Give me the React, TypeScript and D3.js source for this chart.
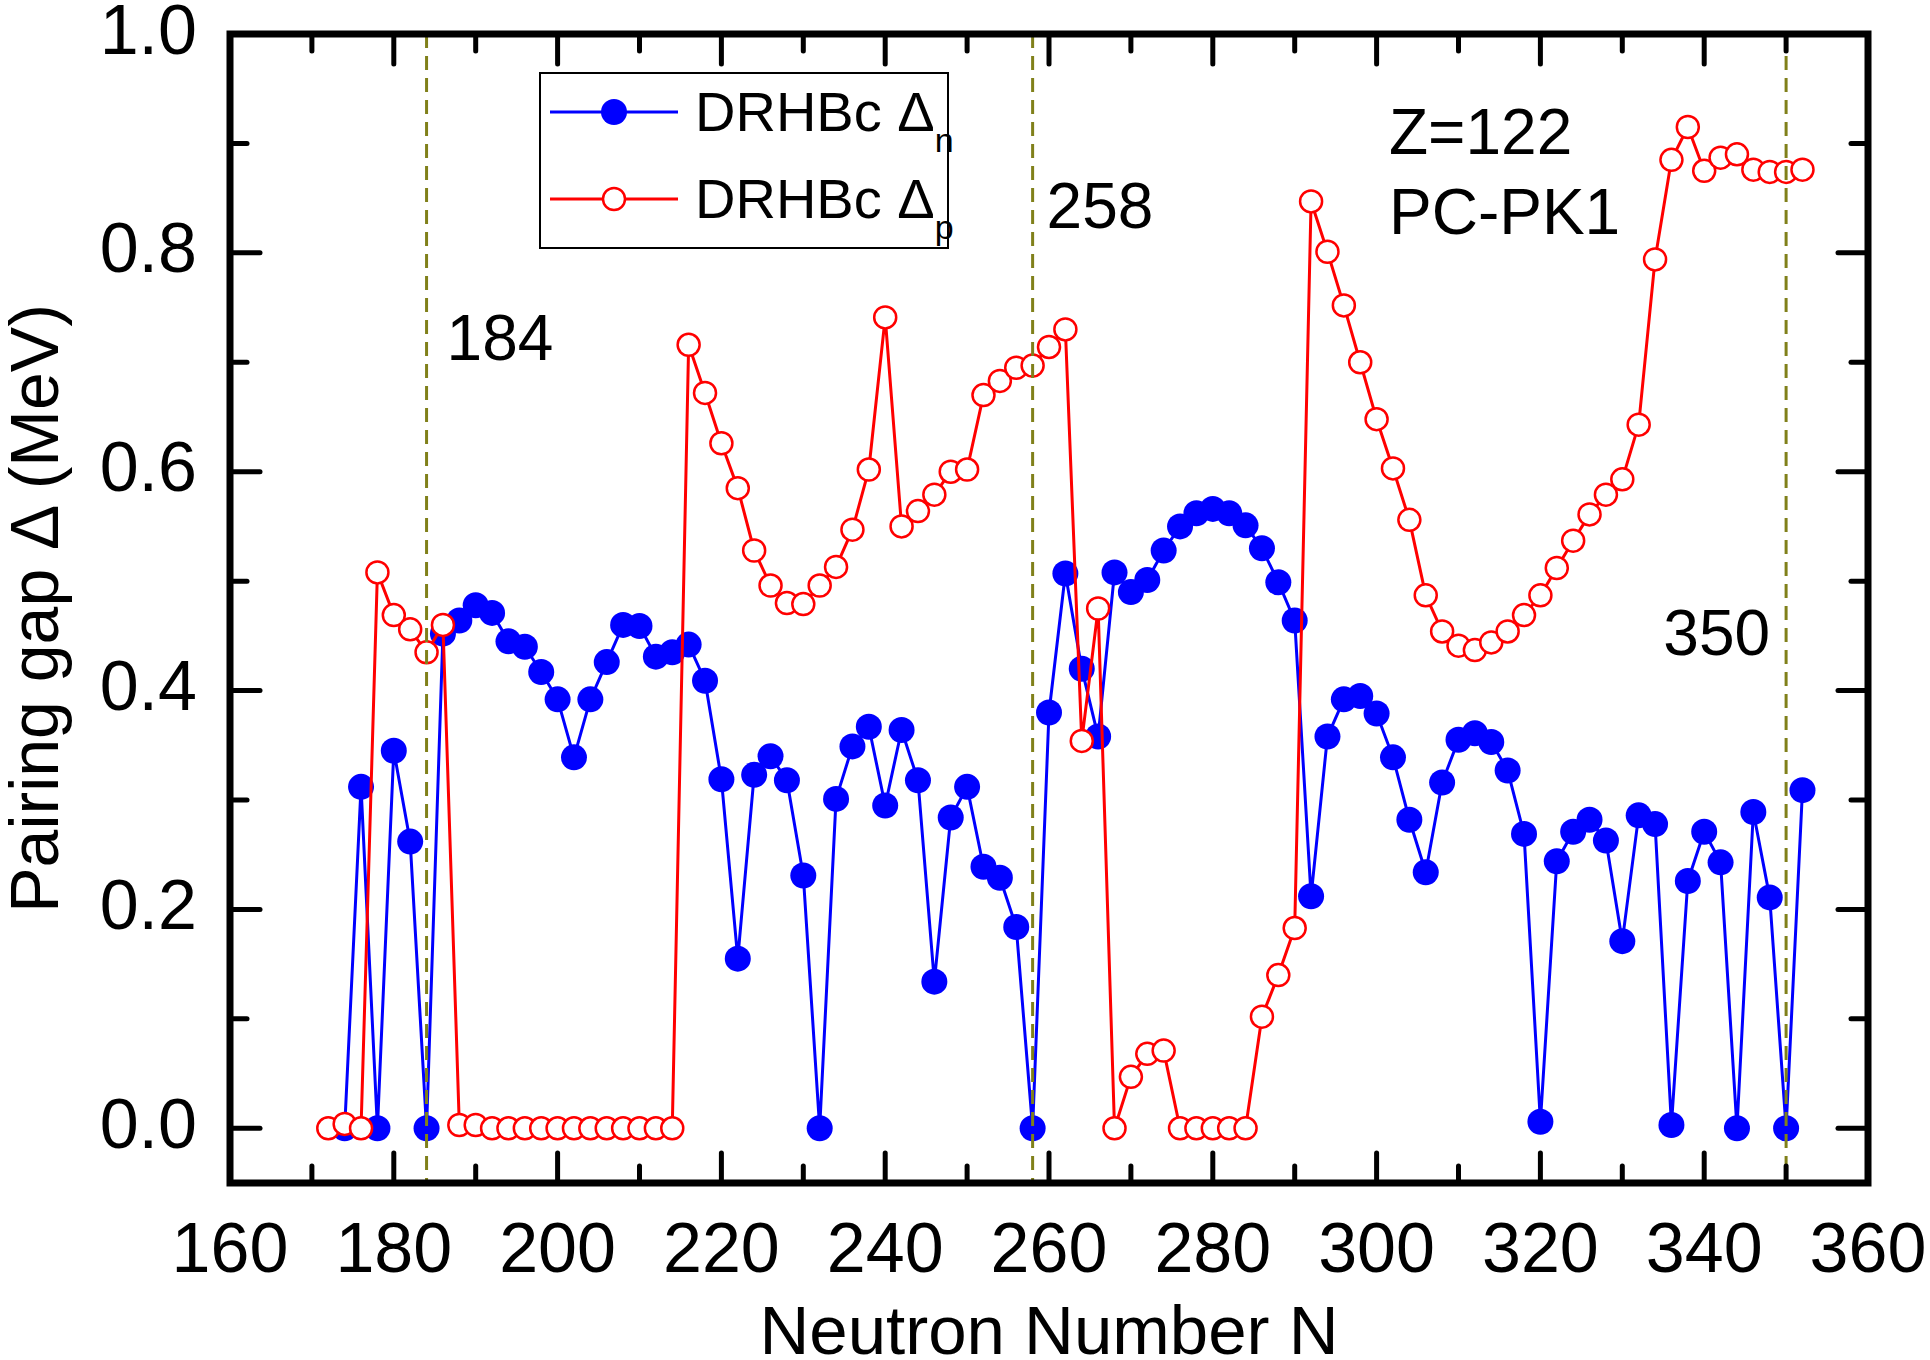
import React, { useEffect, useRef } from 'react';
import * as d3 from 'd3';

// Neutron numbers (Z=122 isotopic chain)
const neutronN = [
  172, 174, 176, 178, 180, 182, 184, 186, 188, 190,
  192, 194, 196, 198, 200, 202, 204, 206, 208, 210,
  212, 214, 216, 218, 220, 222, 224, 226, 228, 230,
  232, 234, 236, 238, 240, 242, 244, 246, 248, 250,
  252, 254, 256, 258, 260, 262, 264, 266, 268, 270,
  272, 274, 276, 278, 280, 282, 284, 286, 288, 290,
  292, 294, 296, 298, 300, 302, 304, 306, 308, 310,
  312, 314, 316, 318, 320, 322, 324, 326, 328, 330,
  332, 334, 336, 338, 340, 342, 344, 346, 348, 350,
  352,
];

// DRHBc neutron pairing gap (MeV)
const gapNeutron: (number | null)[] = [
  null, 0.0, 0.312, 0.0, 0.345, 0.262, 0.0, 0.452, 0.464, 0.478,
  0.471, 0.445, 0.440, 0.417, 0.392, 0.339, 0.392, 0.426, 0.460, 0.459,
  0.431, 0.435, 0.442, 0.409, 0.319, 0.155, 0.323, 0.340, 0.318, 0.231,
  0.0, 0.301, 0.349, 0.367, 0.295, 0.364, 0.318, 0.134, 0.284, 0.312,
  0.239, 0.229, 0.184, 0.0, 0.380, 0.507, 0.420, 0.358, 0.508, 0.490,
  0.501, 0.528, 0.550, 0.562, 0.566, 0.562, 0.551, 0.530, 0.499, 0.464,
  0.212, 0.358, 0.392, 0.395, 0.379, 0.339, 0.282, 0.234, 0.316, 0.355,
  0.361, 0.353, 0.327, 0.269, 0.006, 0.244, 0.271, 0.282, 0.263, 0.171,
  0.286, 0.278, 0.003, 0.226, 0.271, 0.243, 0.0, 0.289, 0.211, 0.0,
  0.309,
];

// DRHBc proton pairing gap (MeV)
const gapProton: (number | null)[] = [
  0.0, 0.004, 0.0, 0.508, 0.469, 0.456, 0.435, 0.460, 0.003, 0.003,
  0.0, 0.0, 0.0, 0.0, 0.0, 0.0, 0.0, 0.0, 0.0, 0.0,
  0.0, 0.0, 0.716, 0.672, 0.626, 0.585, 0.528, 0.496, 0.480, 0.479,
  0.496, 0.513, 0.547, 0.602, 0.741, 0.550, 0.564, 0.579, 0.600, 0.602,
  0.670, 0.683, 0.695, 0.697, 0.714, 0.730, 0.354, 0.475, 0.0, 0.047,
  0.068, 0.071, 0.0, 0.0, 0.0, 0.0, 0.0, 0.102, 0.140, 0.183,
  0.847, 0.801, 0.752, 0.700, 0.648, 0.603, 0.556, 0.487, 0.454, 0.441,
  0.437, 0.444, 0.454, 0.469, 0.487, 0.512, 0.537, 0.561, 0.579, 0.593,
  0.643, 0.794, 0.885, 0.915, 0.875, 0.887, 0.890, 0.876, 0.874, 0.874,
  0.876,
];

// Shell closures marked with dashed lines
const magicN = [184, 258, 350];

const xTicks = [160, 180, 200, 220, 240, 260, 280, 300, 320, 340, 360];
const yTicks = [0.0, 0.2, 0.4, 0.6, 0.8, 1.0];

interface Pt { n: number; v: number | null }

const FONT = '"Liberation Sans", Arial, Helvetica, sans-serif';

const PairingGapChart: React.FC = () => {
  const svgRef = useRef<SVGSVGElement>(null);

  useEffect(() => {
    if (!svgRef.current) return;
    document.body.style.margin = '0';

    d3.select(svgRef.current).selectAll('*').remove();

    const W = 1930;
    const H = 1360;
    const margin = { top: 34, right: 62, bottom: 177, left: 230 };
    const width = W - margin.left - margin.right;
    const height = H - margin.top - margin.bottom;

    const svg = d3.select(svgRef.current)
      .attr('width', W)
      .attr('height', H)
      .style('font-family', FONT);

    svg.append('rect').attr('width', W).attr('height', H).attr('fill', '#fff');

    const g = svg.append('g')
      .attr('transform', `translate(${margin.left}, ${margin.top})`);

    const xScale = d3.scaleLinear().domain([160, 360]).range([0, width]);
    const yScale = d3.scaleLinear().domain([-0.05, 1.0]).range([height, 0]);

    const nData: Pt[] = neutronN.map((n, i) => ({ n, v: gapNeutron[i] }));
    const pData: Pt[] = neutronN.map((n, i) => ({ n, v: gapProton[i] }));

    const line = d3.line<Pt>()
      .defined(d => d.v !== null)
      .x(d => xScale(d.n))
      .y(d => yScale(d.v as number));

    // Neutron gap (blue, filled)
    g.append('path')
      .datum(nData)
      .attr('fill', 'none')
      .attr('stroke', '#0000ff')
      .attr('stroke-width', 3)
      .attr('stroke-linejoin', 'round')
      .attr('d', line);

    g.selectAll('.n-dot')
      .data(nData.filter(d => d.v !== null))
      .enter()
      .append('circle')
      .attr('class', 'n-dot')
      .attr('cx', d => xScale(d.n))
      .attr('cy', d => yScale(d.v as number))
      .attr('r', 13)
      .attr('fill', '#0000ff');

    // Proton gap (red, open)
    g.append('path')
      .datum(pData)
      .attr('fill', 'none')
      .attr('stroke', '#ff0000')
      .attr('stroke-width', 3)
      .attr('stroke-linejoin', 'round')
      .attr('d', line);

    g.selectAll('.p-dot')
      .data(pData.filter(d => d.v !== null))
      .enter()
      .append('circle')
      .attr('class', 'p-dot')
      .attr('cx', d => xScale(d.n))
      .attr('cy', d => yScale(d.v as number))
      .attr('r', 11)
      .attr('fill', '#fff')
      .attr('stroke', '#ff0000')
      .attr('stroke-width', 2.5);

    // Magic number lines
    g.selectAll('.magic')
      .data(magicN)
      .enter()
      .append('line')
      .attr('class', 'magic')
      .attr('x1', d => xScale(d))
      .attr('x2', d => xScale(d))
      .attr('y1', 0)
      .attr('y2', height)
      .attr('stroke', '#80801a')
      .attr('stroke-width', 3)
      .attr('stroke-dasharray', '14,8');

    const magicLabel = [
      { dx: 20, y: 326, anchor: 'start' },
      { dx: 14, y: 194, anchor: 'start' },
      { dx: -16, y: 621, anchor: 'end' },
    ];
    g.selectAll('.magic-label')
      .data(magicN)
      .enter()
      .append('text')
      .attr('class', 'magic-label')
      .attr('x', (d, i) => xScale(d) + magicLabel[i].dx)
      .attr('y', (_, i) => magicLabel[i].y)
      .attr('text-anchor', (_, i) => magicLabel[i].anchor)
      .style('font-size', '64px')
      .text(d => String(d));

    g.append('text')
      .attr('x', 1159)
      .attr('y', 120)
      .style('font-size', '64px')
      .text('Z=122');

    g.append('text')
      .attr('x', 1159)
      .attr('y', 200)
      .style('font-size', '64px')
      .text('PC-PK1');

    // Ticks on all four sides, pointing inward
    const major = 30;
    const minor = 17;
    const tickG = g.append('g')
      .attr('stroke', '#000')
      .attr('stroke-width', 5)
      .attr('stroke-linecap', 'round');

    const xMinor = xScale.ticks(20).filter(t => t % 20 !== 0);
    const yMinor = [0.1, 0.3, 0.5, 0.7, 0.9];

    [...xTicks.map(t => ({ t, len: major })), ...xMinor.map(t => ({ t, len: minor }))].forEach(({ t, len }) => {
      tickG.append('line')
        .attr('x1', xScale(t)).attr('x2', xScale(t))
        .attr('y1', height).attr('y2', height - len);
      tickG.append('line')
        .attr('x1', xScale(t)).attr('x2', xScale(t))
        .attr('y1', 0).attr('y2', len);
    });

    [...yTicks.map(t => ({ t, len: major })), ...yMinor.map(t => ({ t, len: minor }))].forEach(({ t, len }) => {
      tickG.append('line')
        .attr('x1', 0).attr('x2', len)
        .attr('y1', yScale(t)).attr('y2', yScale(t));
      tickG.append('line')
        .attr('x1', width).attr('x2', width - len)
        .attr('y1', yScale(t)).attr('y2', yScale(t));
    });

    // Frame
    g.append('rect')
      .attr('x', 0)
      .attr('y', 0)
      .attr('width', width)
      .attr('height', height)
      .attr('fill', 'none')
      .attr('stroke', '#000')
      .attr('stroke-width', 7);

    // Tick labels
    g.selectAll('.x-label')
      .data(xTicks)
      .enter()
      .append('text')
      .attr('class', 'x-label')
      .attr('x', d => xScale(d))
      .attr('y', height + 89)
      .attr('text-anchor', 'middle')
      .style('font-size', '70px')
      .text(d => String(d));

    g.selectAll('.y-label')
      .data(yTicks)
      .enter()
      .append('text')
      .attr('class', 'y-label')
      .attr('x', -33)
      .attr('y', d => yScale(d))
      .attr('dy', '0.28em')
      .attr('text-anchor', 'end')
      .style('font-size', '70px')
      .text(d => d3.format('.1f')(d));

    // Axis titles
    g.append('text')
      .attr('x', width / 2)
      .attr('y', height + 171)
      .attr('text-anchor', 'middle')
      .style('font-size', '69px')
      .text('Neutron Number N');

    g.append('text')
      .attr('transform', `translate(${58 - margin.left}, ${height / 2}) rotate(-90)`)
      .attr('text-anchor', 'middle')
      .style('font-size', '68px')
      .text('Pairing gap Δ (MeV)');

    // Legend
    const legend = svg.append('g').attr('transform', 'translate(540, 73)');
    legend.append('rect')
      .attr('width', 408)
      .attr('height', 175)
      .attr('fill', '#fff')
      .attr('stroke', '#000')
      .attr('stroke-width', 2);

    const entries = [
      { color: '#0000ff', filled: true, sub: 'n', y: 39 },
      { color: '#ff0000', filled: false, sub: 'p', y: 126 },
    ];
    entries.forEach(e => {
      legend.append('line')
        .attr('x1', 10).attr('x2', 138)
        .attr('y1', e.y).attr('y2', e.y)
        .attr('stroke', e.color)
        .attr('stroke-width', 3);
      legend.append('circle')
        .attr('cx', 74)
        .attr('cy', e.y)
        .attr('r', e.filled ? 13 : 11)
        .attr('fill', e.filled ? e.color : '#fff')
        .attr('stroke', e.filled ? 'none' : e.color)
        .attr('stroke-width', 2.5);
      const t = legend.append('text')
        .attr('x', 155)
        .attr('y', e.y + 19)
        .style('font-size', '56px');
      t.append('tspan').text('DRHBc Δ');
      t.append('tspan')
        .attr('dy', 21)
        .style('font-size', '34px')
        .text(e.sub);
    });
  }, []);

  return <svg ref={svgRef} style={{ display: 'block' }}></svg>;
};

export default function App() {
  return <PairingGapChart />;
}
